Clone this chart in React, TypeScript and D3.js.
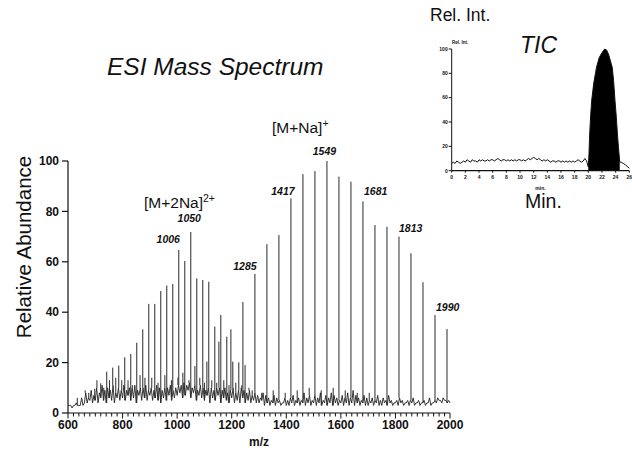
import React from "react";
import * as d3 from "d3";

// ---------- Main spectrum data ----------
// [M+Na]+ series (singly charged, 44 Da spacing)
const singlyMz = [1065, 1109, 1153, 1197, 1241, 1285, 1329, 1373, 1417, 1461, 1505, 1549, 1593, 1637, 1681, 1725, 1769, 1813, 1857, 1901, 1945, 1989];
const singlyAbund = [18.6, 20.4, 28.3, 33.2, 44, 55.2, 67, 70.6, 85.2, 94.8, 96, 100, 93.8, 91.8, 84, 74.6, 73.9, 70, 63.4, 51.9, 38.9, 33.3];

// [M+2Na]2+ series (doubly charged, 22 Da spacing)
const doublyMz = [698, 720, 742, 764, 786, 808, 830, 852, 874, 896, 918, 940, 962, 984, 1006, 1028, 1050, 1072, 1094, 1116, 1138, 1160, 1182, 1204, 1226, 1249];
const doublyAbund = [9.6, 11.8, 16.4, 18, 18.8, 22.1, 23.4, 27.9, 33.2, 43.3, 43.3, 48.4, 50.6, 51.2, 64.7, 60.3, 71.8, 53.4, 52.8, 52.1, 34.3, 38.9, 30.3, 20.4, 20.1, 19];

// small background spikes
const minorMz = [634, 663, 676, 706, 731, 752, 775, 797, 820, 836, 864, 882, 907, 930, 955, 979, 1003, 1021, 1043, 1083, 1100, 1127, 1145, 1171, 1190, 1215, 1237, 1263, 1275, 1310, 1352, 1396, 1440, 1484, 1528, 1572, 1616, 1660, 1704];
const minorAbund = [6, 9, 8, 13, 10, 13, 14, 13, 13, 11, 15, 14, 14, 12, 15, 13, 14, 16, 13, 14, 12, 13, 12, 13, 11, 12, 11, 10, 9, 8, 9, 8, 9, 10, 9, 10, 9, 8, 8];

// baseline noise, m/z 600..2000 step 5
const noiseStart = 600;
const noiseStep = 5;
const noiseLevels = [
  3, 3, 3, 2, 3, 3, 4, 3, 3, 3, 6, 3, 4, 8, 4, 6, 5, 9, 4, 7,
  5, 10, 4, 8, 6, 11, 5, 9, 4, 10, 6, 9, 5, 11, 4, 8, 6, 10, 5, 9,
  6, 11, 5, 9, 7, 10, 5, 10, 6, 11, 4, 9, 7, 10, 5, 10, 6, 11, 5, 9,
  7, 10, 5, 9, 6, 11, 5, 10, 4, 9, 6, 10, 5, 10, 7, 11, 5, 9, 6, 10,
  7, 11, 8, 11, 6, 12, 7, 11, 9, 12, 6, 10, 8, 11, 5, 9, 7, 11, 6, 10,
  5, 9, 7, 10, 4, 10, 6, 9, 5, 10, 7, 10, 4, 9, 6, 10, 5, 8, 4, 9,
  6, 10, 4, 8, 5, 9, 4, 10, 6, 9, 4, 8, 5, 9, 4, 7, 5, 8, 4, 7,
  4, 6, 5, 8, 3, 7, 4, 6, 3, 5, 4, 7, 3, 6, 4, 5, 3, 4, 4, 6,
  3, 5, 3, 6, 4, 7, 3, 5, 4, 6, 3, 5, 4, 8, 3, 6, 4, 7, 3, 5,
  4, 7, 3, 6, 4, 8, 3, 5, 4, 7, 3, 6, 4, 8, 3, 7, 4, 6, 3, 5,
  4, 7, 3, 6, 4, 8, 3, 6, 4, 9, 3, 7, 4, 6, 3, 5, 4, 7, 3, 6,
  3, 5, 4, 6, 3, 5, 4, 7, 3, 5, 3, 6, 4, 5, 3, 7, 4, 5, 3, 4,
  4, 5, 3, 6, 4, 5, 3, 4, 4, 5, 3, 5, 4, 6, 3, 4, 4, 5, 3, 4,
  4, 5, 3, 4, 4, 6, 3, 4, 4, 5, 4, 6, 5, 5, 4, 6, 5, 5, 4, 5,
  4,
];

const xTicksMajor = [600, 800, 1000, 1200, 1400, 1600, 1800, 2000];
const yTicks = [0, 20, 40, 60, 80, 100];

// peak labels (text, m/z of the peak it annotates, label height in abundance units)
const peakLabelText = ["1006", "1050", "1285", "1417", "1549", "1681", "1813", "1990"];
const peakLabelMz = [1006, 1050, 1285, 1417, 1549, 1681, 1813, 1945];
const peakLabelAbund = [67.3, 75.6, 56.7, 86.5, 102.4, 86.5, 71.8, 40.5];

// ---------- TIC inset data ----------
const ticBaseTimes = d3.range(0, 20, 0.25);
const ticBaseValues = [
  6, 7, 6, 8, 7, 6, 7, 8, 7, 9, 8, 7, 9, 8, 8, 7, 9, 8, 9, 8,
  8, 9, 8, 9, 9, 8, 9, 10, 9, 8, 9, 9, 8, 9, 8, 9, 8, 9, 8, 9,
  9, 8, 9, 8, 9, 10, 9, 10, 11, 10, 9, 10, 9, 8, 9, 8, 9, 8, 7, 8,
  8, 7, 8, 8, 7, 8, 7, 8, 7, 8, 7, 8, 7, 8, 9, 8, 7, 8, 10, 8,
];
const ticPeakTimes = [20.0, 20.1, 20.2, 20.35, 20.5, 20.8, 21.2, 21.6, 22.0, 22.4, 22.7, 23.0, 23.3, 23.5, 23.7, 23.9, 24.1, 24.25, 24.4, 24.6];
const ticPeakValues = [3, 14, 30, 46, 58, 72, 85, 93, 97, 100, 99, 95, 89, 85, 74, 58, 44, 31, 20, 7];
const ticTailTimes = [24.6, 24.8, 25.1, 25.4, 25.8, 26.0];
const ticTailValues = [7, 7, 6, 5, 3, 2];
const ticXTicks = [0, 2, 4, 6, 8, 10, 12, 14, 16, 18, 20, 22, 24, 26];
const ticYTicks = [0, 20, 40, 60, 80, 100];

const FONT = "'Liberation Sans', Arial, Helvetica, sans-serif";

export default function App() {
  const x = d3.scaleLinear().domain([600, 2000]).range([68, 450]);
  const y = d3.scaleLinear().domain([0, 100]).range([413, 161]);

  const noisePts = noiseLevels.map((v, i) => ({ mz: noiseStart + i * noiseStep, v }));
  const noiseLine = d3
    .line<{ mz: number; v: number }>()
    .x((d) => x(d.mz))
    .y((d) => y(d.v))(noisePts) as string;

  const peaks = [
    ...singlyMz.map((m, i) => ({ mz: m, h: singlyAbund[i] })),
    ...doublyMz.map((m, i) => ({ mz: m, h: doublyAbund[i] })),
    ...minorMz.map((m, i) => ({ mz: m, h: minorAbund[i] })),
  ];
  const baseAt = (mz: number) => {
    const idx = Math.round((mz - noiseStart) / noiseStep);
    return noiseLevels[Math.max(0, Math.min(noiseLevels.length - 1, idx))];
  };

  const minorTicks = d3.range(600, 2001, 20);

  // label placement relative to the annotated peak
  const labelDx = [-10.5, -1.5, -10, -8, -2.5, 1, 0, 1];
  const labelAnchor = ["middle", "middle", "middle", "middle", "middle", "start", "start", "start"];

  // TIC scales
  const tx = d3.scaleLinear().domain([0, 26]).range([451.7, 629.3]);
  const ty = d3.scaleLinear().domain([0, 100]).range([170.7, 49]);
  const ticBasePts = ticBaseTimes.map((t, i) => [t, ticBaseValues[i]] as [number, number]);
  const ticPeakPts = ticPeakTimes.map((t, i) => [t, ticPeakValues[i]] as [number, number]);
  const ticTailPts = ticTailTimes.map((t, i) => [t, ticTailValues[i]] as [number, number]);
  const ticLine = d3
    .line<[number, number]>()
    .x((d) => tx(d[0]))
    .y((d) => ty(d[1]));
  const ticArea = d3
    .area<[number, number]>()
    .x((d) => tx(d[0]))
    .y0(ty(0))
    .y1((d) => ty(d[1]));
  const ticFull = [...ticBasePts, ...ticPeakPts, ...ticTailPts.slice(1)];

  return (
    <svg
      width={632}
      height={456}
      style={{ position: "absolute", left: 0, top: 0, background: "#fff" }}
      fontFamily={FONT}
    >
      <rect x={0} y={0} width={632} height={456} fill="#fff" />

      {/* Title */}
      <text x={107} y={75} fontSize={24.5} fontStyle="italic" fill="#111">
        ESI Mass Spectrum
      </text>

      {/* y axis */}
      <line x1={x(600)} x2={x(600)} y1={y(100)} y2={y(0)} stroke="#111" strokeWidth={1.2} />
      {yTicks.map((t) => (
        <g key={"yt" + t}>
          <line x1={x(600) - 6} x2={x(600)} y1={y(t)} y2={y(t)} stroke="#111" strokeWidth={1.2} />
          <text x={x(600) - 9} y={y(t) + 4.2} fontSize={12} fontWeight="bold" textAnchor="end" fill="#111">
            {t}
          </text>
        </g>
      ))}
      <text
        transform={`translate(31,247) rotate(-90)`}
        fontSize={20.5}
        textAnchor="middle"
        fill="#111"
      >
        Relative Abundance
      </text>

      {/* x axis */}
      <line x1={x(600)} x2={x(2000)} y1={y(0)} y2={y(0)} stroke="#111" strokeWidth={1.2} />
      {minorTicks.map((t) => (
        <line
          key={"xm" + t}
          x1={x(t)}
          x2={x(t)}
          y1={y(0)}
          y2={y(0) + (t % 200 === 0 ? 5.5 : 3.5)}
          stroke="#111"
          strokeWidth={1}
        />
      ))}
      {xTicksMajor.map((t) => (
        <text key={"xl" + t} x={x(t)} y={428.5} fontSize={12} fontWeight="bold" textAnchor="middle" fill="#111">
          {t}
        </text>
      ))}
      <text x={259} y={446} fontSize={12} fontWeight="bold" textAnchor="middle" fill="#111">
        m/z
      </text>

      {/* spectrum */}
      <path d={noiseLine} fill="none" stroke="#222" strokeWidth={0.9} />
      {peaks.map((p, i) => (
        <line
          key={"pk" + i}
          x1={x(p.mz)}
          x2={x(p.mz)}
          y1={y(baseAt(p.mz))}
          y2={y(p.h)}
          stroke="#2a2a2a"
          strokeWidth={1}
        />
      ))}

      {/* peak labels */}
      {peakLabelText.map((s, i) => (
        <text
          key={"pl" + i}
          x={x(peakLabelMz[i]) + labelDx[i]}
          y={y(peakLabelAbund[i])}
          fontSize={10.5}
          fontWeight="bold"
          fontStyle="italic"
          textAnchor={labelAnchor[i]}
          fill="#111"
        >
          {s}
        </text>
      ))}

      {/* ion annotations */}
      <text x={144} y={208} fontSize={15.5} fill="#111">
        [M+2Na]
        <tspan fontSize={10.5} dy={-6.5}>2+</tspan>
      </text>
      <text x={272} y={133} fontSize={15.5} fill="#111">
        [M+Na]
        <tspan fontSize={10.5} dy={-6.5}>+</tspan>
      </text>

      {/* ---------- TIC inset ---------- */}
      <text x={430} y={21} fontSize={17.5} fill="#111">
        Rel. Int.
      </text>
      <text x={520} y={53} fontSize={23} fontStyle="italic" fill="#111">
        TIC
      </text>
      <text x={452} y={44} fontSize={4.5} fontWeight="bold" fill="#111">
        Rel. Int.
      </text>
      <path d={ticArea(ticPeakPts) as string} fill="#000" />
      <path d={ticLine(ticFull) as string} fill="none" stroke="#111" strokeWidth={1} />
      <line x1={tx(0)} x2={tx(0)} y1={ty(100)} y2={ty(0)} stroke="#111" strokeWidth={1} />
      <line x1={tx(0)} x2={tx(26)} y1={ty(0)} y2={ty(0)} stroke="#111" strokeWidth={1.2} />
      {ticYTicks.map((t) => (
        <g key={"tyt" + t}>
          <line x1={tx(0) - 3} x2={tx(0)} y1={ty(t)} y2={ty(t)} stroke="#111" strokeWidth={1} />
          <text x={tx(0) - 4} y={ty(t) + 1.8} fontSize={5} fontWeight="bold" textAnchor="end" fill="#111">
            {t}
          </text>
        </g>
      ))}
      {ticXTicks.map((t) => (
        <g key={"txt" + t}>
          <line x1={tx(t)} x2={tx(t)} y1={ty(0)} y2={ty(0) + 2} stroke="#111" strokeWidth={1} />
          <text x={tx(t)} y={ty(0) + 8} fontSize={5} fontWeight="bold" textAnchor="middle" fill="#111">
            {t}
          </text>
        </g>
      ))}
      <text x={tx(13)} y={190} fontSize={5} fontWeight="bold" textAnchor="middle" fill="#111">
        min.
      </text>
      <text x={525} y={208} fontSize={19.5} fill="#111">
        Min.
      </text>
    </svg>
  );
}
